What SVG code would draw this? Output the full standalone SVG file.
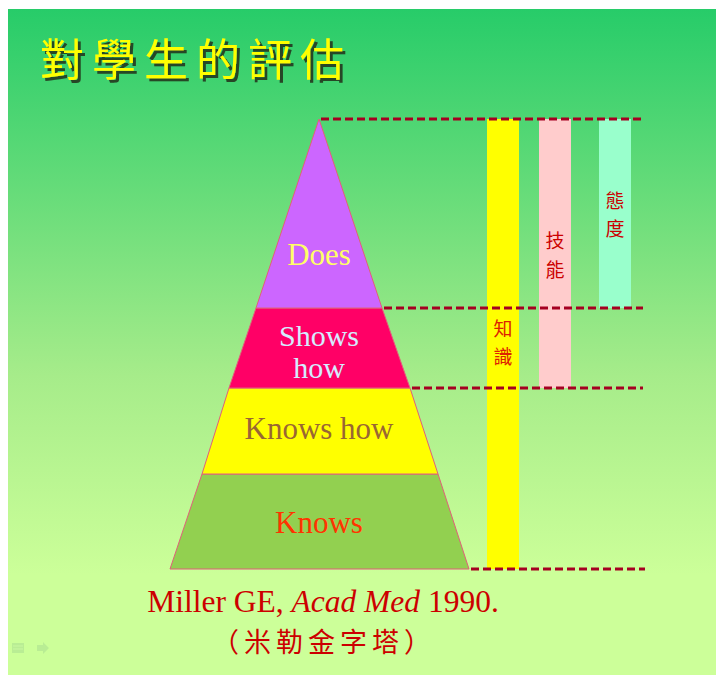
<svg xmlns="http://www.w3.org/2000/svg" width="716" height="675" viewBox="0 0 716 675">
<style>
.lbl{font-family:"Liberation Serif","Times New Roman",serif;font-size:31px;text-anchor:middle}
.cjk{font-family:"Noto Sans CJK TC","Noto Sans CJK SC",sans-serif;text-anchor:middle}
.dash{stroke:#a50021;stroke-width:3;stroke-dasharray:8 4;fill:none}
.lvl{stroke:#e0607a;stroke-width:1}
</style>
<defs>
<linearGradient id="bg" x1="0" y1="0" x2="0" y2="1">
<stop offset="0" stop-color="#27cc69"/>
<stop offset="0.55" stop-color="#a6ec8a"/>
<stop offset="0.85" stop-color="#ccff99"/>
<stop offset="1" stop-color="#ccff99"/>
</linearGradient>
<filter id="shadow" x="-5%" y="-20%" width="115%" height="150%">
<feDropShadow dx="3" dy="3" stdDeviation="0.6" flood-color="#24381a" flood-opacity="0.9"/>
</filter>
</defs>
<rect width="716" height="675" fill="#ffffff"/>
<rect x="8" y="9" width="708" height="666" fill="url(#bg)"/>
<g id="title">
<text x="40" y="76" class="cjk" filter="url(#shadow)" style="text-anchor:start;font-size:44px;letter-spacing:8px" fill="#ffff00">對學生的評估</text>
</g>
<g id="bar-knowledge">
<rect x="487" y="119" width="32" height="450" fill="#ffff00"/>
<text x="503" y="336" class="cjk" style="font-size:19px" fill="#dd2200">知</text>
<text x="503" y="364" class="cjk" style="font-size:19px" fill="#dd2200">識</text>
</g>
<g id="bar-skill">
<rect x="539" y="119" width="32" height="269" fill="#ffcccc"/>
<text x="555" y="248" class="cjk" style="font-size:19px" fill="#cc0000">技</text>
<text x="555" y="277" class="cjk" style="font-size:19px" fill="#cc0000">能</text>
</g>
<g id="bar-attitude">
<rect x="599" y="119" width="32" height="189" fill="#99ffcc"/>
<text x="615" y="208" class="cjk" style="font-size:19px" fill="#cc0000">態</text>
<text x="615" y="236" class="cjk" style="font-size:19px" fill="#cc0000">度</text>
</g>
<g id="level-knows">
<polygon class="lvl" points="202,474 438,474 469,569 170,569" fill="#92d050"/>
<text x="319" y="533" class="lbl" fill="#ff3300">Knows</text>
</g>
<g id="level-knowshow">
<polygon class="lvl" points="229,388 410,388 438,474 202,474" fill="#ffff00"/>
<text x="319" y="439" class="lbl" fill="#996633">Knows how</text>
</g>
<g id="level-showshow">
<polygon class="lvl" points="256,308 382,308 410,388 229,388" fill="#ff0066"/>
<text x="319" y="346" class="lbl" style="font-size:30px" fill="#d4ecff">Shows</text>
<text x="319" y="378" class="lbl" style="font-size:30px" fill="#d4ecff">how</text>
</g>
<g id="level-does">
<polygon class="lvl" points="319,119 382,308 256,308" fill="#cc66ff"/>
<text x="319" y="265" class="lbl" fill="#ffff66">Does</text>
</g>
<g id="connectors">
<line class="dash" x1="321" y1="119" x2="643" y2="119"/>
<line class="dash" x1="384" y1="308" x2="643" y2="308"/>
<line class="dash" x1="412" y1="388" x2="643" y2="388"/>
<line class="dash" x1="471" y1="569" x2="645" y2="569"/>
</g>
<g id="citation">
<text x="323" y="612" class="lbl" style="font-size:31.5px" fill="#cc0000">Miller GE, <tspan font-style="italic">Acad Med</tspan> 1990.</text>
<text x="324" y="652" class="cjk" style="font-size:27px;letter-spacing:5px" fill="#cc0000">（米勒金字塔）</text>
</g>
<g id="nav" opacity="0.5">
<rect x="12" y="643" width="12" height="10" fill="#a8dd90"/>
<line x1="13" y1="646" x2="23" y2="646" stroke="#c8f2a8" stroke-width="1"/>
<line x1="13" y1="649" x2="23" y2="649" stroke="#c8f2a8" stroke-width="1"/>
<polygon points="37,645 43,645 43,642 49,648 43,654 43,651 37,651" fill="#a8dd90"/>
</g>
</svg>
